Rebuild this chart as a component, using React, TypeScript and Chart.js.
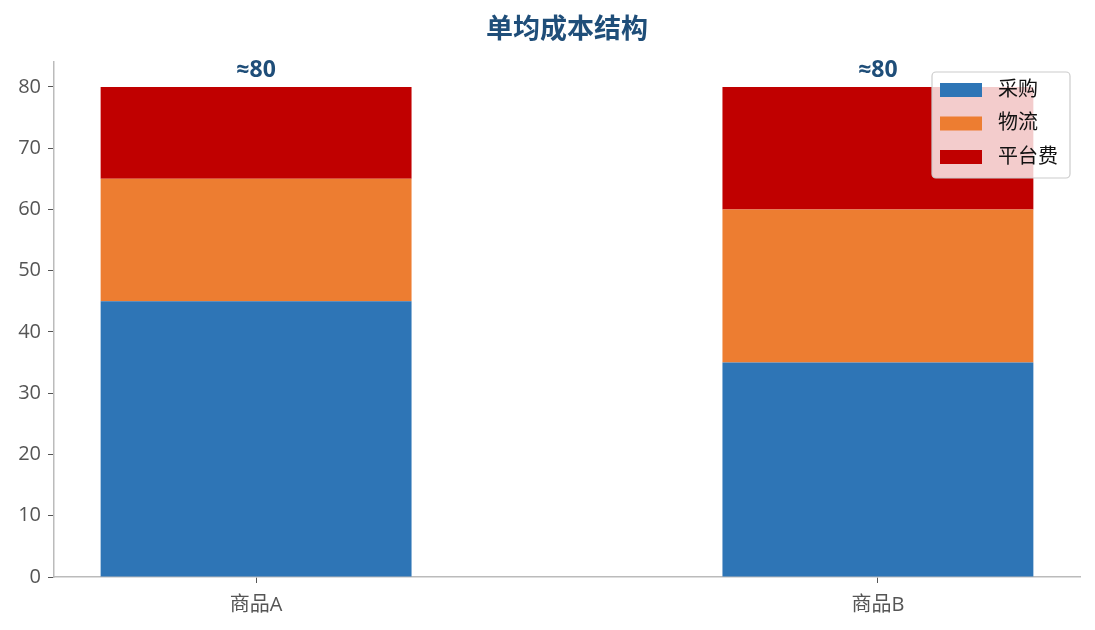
import React, { useEffect, useRef } from "react";
import { Chart, registerables } from "chart.js";

Chart.register(...registerables);

const categories = ["商品A", "商品B"];
const seriesNames = ["采购", "物流", "平台费"];
const purchase = [45, 35];
const logistics = [20, 25];
const platformFee = [15, 20];
const totalLabels = ["≈80", "≈80"];
const yTicks = [0, 10, 20, 30, 40, 50, 60, 70, 80];
const chartTitle = "单均成本结构";

const colors = ["#2e75b6", "#ed7d31", "#c00000"];
const FONT = '"Open Sans", "Noto Sans CJK SC", sans-serif';

export default function App() {
  const ref = useRef<HTMLCanvasElement | null>(null);
  useEffect(() => {
    if (!ref.current) return;
    const series = [purchase, logistics, platformFee];
    const datasets = series.map((vals, i) => ({
      label: seriesNames[i],
      data: vals.map((v, j) => ({ x: j, y: v })),
      backgroundColor: colors[i],
      borderWidth: 0,
      barPercentage: 0.5,
      categoryPercentage: 1,
    }));

    const overlay = {
      id: "overlay",
      afterDatasetsDraw(chart: any) {
        const ctx = chart.ctx;
        const area = chart.chartArea;
        const xs = chart.scales.x;
        const ys = chart.scales.y;
        ctx.save();
        // title
        ctx.fillStyle = "#1f4e79";
        ctx.font = `bold 27px ${FONT}`;
        ctx.textAlign = "center";
        ctx.textBaseline = "middle";
        ctx.fillText(chartTitle, (area.left + area.right) / 2, 22);
        // totals
        ctx.font = `bold 23px ${FONT}`;
        ctx.textBaseline = "alphabetic";
        categories.forEach((_, j) => {
          const total = series.reduce((s, arr) => s + arr[j], 0);
          ctx.fillText(totalLabels[j], xs.getPixelForValue(j), ys.getPixelForValue(total) - 10);
        });
        // legend
        const bx = 924, by = 64, bw = 138, bh = 106;
        ctx.fillStyle = "rgba(255,255,255,0.8)";
        ctx.strokeStyle = "#cccccc";
        ctx.lineWidth = 1.2;
        ctx.beginPath();
        (ctx as any).roundRect(bx, by, bw, bh, 4);
        ctx.fill();
        ctx.stroke();
        ctx.font = `20px ${FONT}`;
        ctx.textAlign = "left";
        ctx.textBaseline = "middle";
        chart.data.datasets.forEach((ds: any, i: number) => {
          const cy = by + 18 + i * 33.5;
          ctx.fillStyle = ds.backgroundColor;
          ctx.fillRect(bx + 8, cy - 7, 42, 14);
          ctx.fillStyle = "#111111";
          ctx.fillText(ds.label, bx + 66, cy);
        });
        ctx.restore();
      },
    };

    const chart = new Chart(ref.current, {
      type: "bar",
      data: { datasets } as any,
      options: {
        animation: false,
        responsive: true,
        maintainAspectRatio: false,
        layout: { padding: { left: 0, right: 7, top: 54, bottom: 0 } },
        plugins: { legend: { display: false }, title: { display: false }, tooltip: { enabled: false } },
        scales: {
          x: {
            type: "linear",
            stacked: true,
            offset: false,
            min: -0.325,
            max: 1.325,
            afterBuildTicks: (s: any) => {
              s.ticks = categories.map((_, i) => ({ value: i }));
            },
            afterFit: (s: any) => {
              s.height = 45;
            },
            ticks: {
              color: "#555555",
              font: { family: FONT, size: 20 },
              padding: 10,
              callback: (v: any) => categories[v] ?? "",
            },
            grid: { display: true, offset: false, drawOnChartArea: false, drawTicks: true, tickLength: 6, color: "#555555" },
            border: { color: "#bbbbbb", width: 1.5 },
          },
          y: {
            stacked: true,
            min: 0,
            max: 84.08,
            afterBuildTicks: (s: any) => {
              s.ticks = yTicks.map((v) => ({ value: v }));
            },
            afterFit: (s: any) => {
              s.width = 46;
            },
            ticks: {
              color: "#555555",
              font: { family: FONT, size: 20 },
              padding: 7,
            },
            grid: { display: true, drawOnChartArea: false, drawTicks: true, tickLength: 6, color: "#555555" },
            border: { color: "#bbbbbb", width: 1.5 },
          },
        },
      } as any,
      plugins: [overlay],
    });
    return () => chart.destroy();
  }, []);
  return (
    <div style={{ width: 1079, height: 614, position: "relative" }}>
      <canvas ref={ref} />
    </div>
  );
}
